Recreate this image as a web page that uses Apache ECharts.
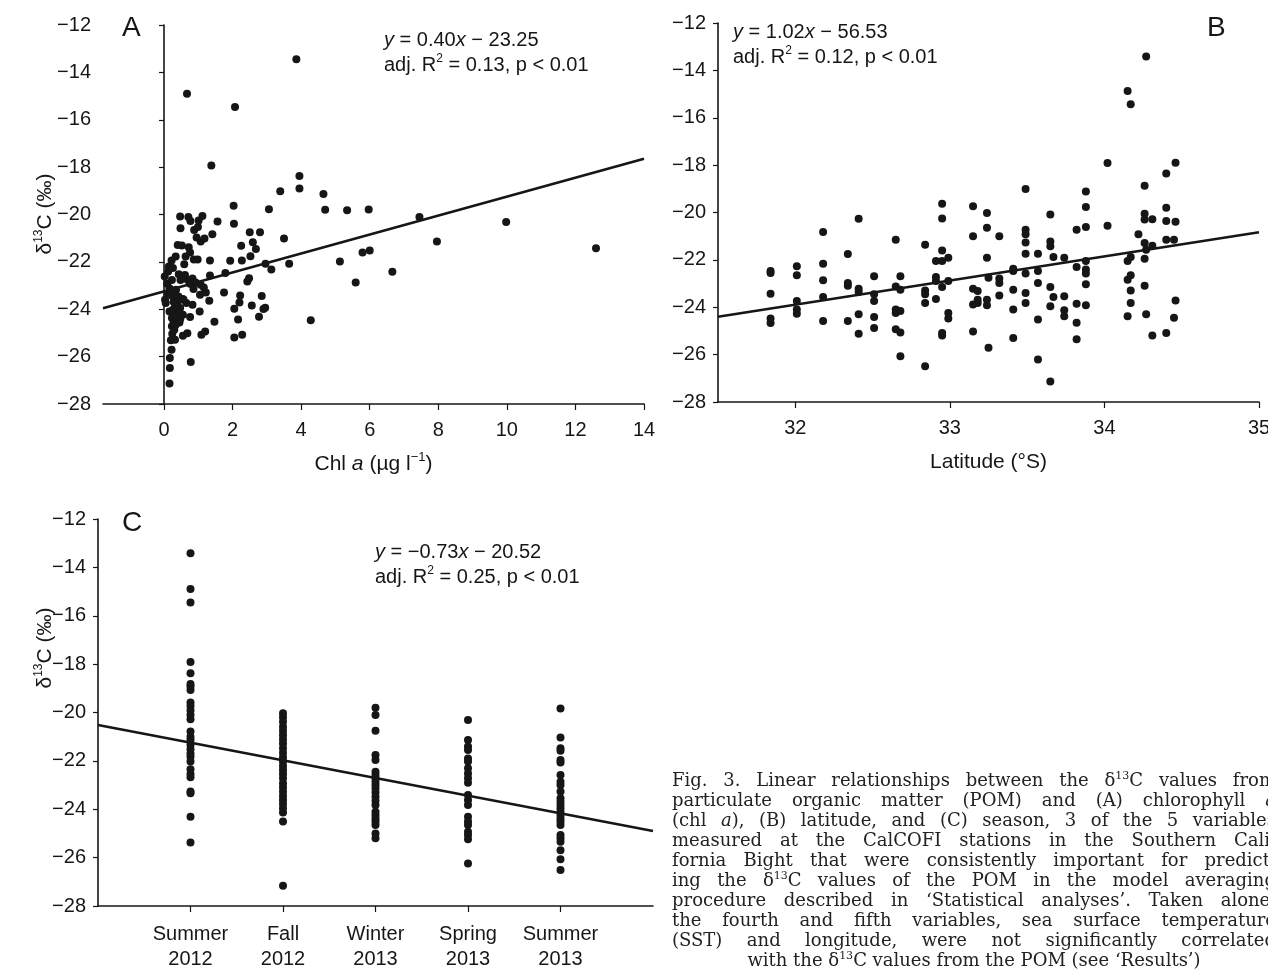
<!DOCTYPE html>
<html>
<head>
<meta charset="utf-8">
<script src="https://cdn.jsdelivr.net/npm/echarts@6.0.0/dist/echarts.min.js"></script>
<style>
  html, body { margin: 0; padding: 0; background: #fff; overflow: hidden; }
  #chart { position: absolute; left: 0; top: 0; width: 1268px; height: 971px; }
  #caption { position: absolute; left: 672px; top: 770px; width: 604px;
    font-family: 'DejaVu Serif', 'Liberation Serif', serif;
    font-size: 18px; color: #222; }
  #caption div { height: 20px; line-height: 20px; white-space: nowrap; text-align: justify; text-align-last: justify; }
  #caption div.last { text-align-last: center; }
  #caption .sup { font-size: 11px; position: relative; top: -7px; }
</style>
</head>
<body>
<div id="chart"></div>
<div id="caption">
  <div>Fig. 3. Linear relationships between the δ<span class="sup">13</span>C values from</div>
  <div>particulate organic matter (POM) and (A) chlorophyll <i>a</i></div>
  <div>(chl <i>a</i>), (B) latitude, and (C) season, 3 of the 5 variables</div>
  <div>measured at the CalCOFI stations in the Southern Cali-</div>
  <div>fornia Bight that were consistently important for predict-</div>
  <div>ing the δ<span class="sup">13</span>C values of the POM in the model averaging</div>
  <div>procedure described in ‘Statistical analyses’. Taken alone,</div>
  <div>the fourth and fifth variables, sea surface temperature</div>
  <div>(SST) and longitude, were not significantly correlated</div>
  <div class="last">with the δ<span class="sup">13</span>C values from the POM (see ‘Results’)</div>
</div>
<script>
// ---- panel A : chlorophyll a vs d13C ----
const chlA = [3.86,0.67,2.07,1.38,3.95,3.95,3.39,4.65,2.03,3.06,
  4.7,5.34,5.97,7.45,9.98,0.47,0.71,0.77,1.12,1.01,
  1.56,2.04,0.48,0.88,0.99,1.41,2.5,2.8,0.95,1.07,
  1.18,3.5,7.96,2.59,2.25,2.68,0.4,0.52,0.72,12.6,
  5.79,6.0,0.76,0.34,0.63,0.87,0.98,2.52,0.22,1.34,
  1.93,2.27,0.59,5.13,2.96,3.65,0.14,0.26,3.13,6.66,
  1.79,0.43,0.61,0.02,1.34,0.83,2.48,0.23,0.69,2.43,
  5.59,0.92,0.76,1.07,1.16,0.16,0.35,0.86,1.22,1.75,
  0.1,0.23,0.42,1.05,2.22,2.85,0.03,0.55,0.28,0.05,
  0.65,1.32,2.2,0.83,2.56,2.95,2.9,2.05,0.32,0.47,
  0.16,1.04,0.34,0.55,0.76,0.41,0.23,2.77,2.16,4.28,
  0.28,0.45,0.34,1.47,0.23,1.2,1.09,0.68,0.24,0.55,
  2.28,2.05,0.32,0.2,0.22,0.78,0.17,0.17,0.16,
  0.09,0.2,0.3,0.39,0.26,0.47,0.3,0.57,0.12,0.48];
const d13cA = [-13.45,-14.9,-15.46,-17.93,-18.37,-18.9,-19.02,-19.13,-19.63,-19.78,
  -19.8,-19.82,-19.79,-20.11,-20.32,-20.08,-20.11,-20.27,-20.06,-20.25,
  -20.3,-20.39,-20.58,-20.65,-20.53,-20.83,-20.75,-20.75,-20.97,-21.14,
  -21.01,-21.01,-21.14,-21.17,-21.32,-21.46,-21.29,-21.31,-21.38,-21.43,
  -21.6,-21.52,-21.6,-21.77,-21.77,-21.9,-21.9,-21.76,-21.94,-21.94,
  -21.95,-21.94,-22.1,-21.98,-22.08,-22.08,-22.19,-22.26,-22.32,-22.42,
  -22.47,-22.52,-22.55,-22.62,-22.57,-22.7,-22.69,-22.76,-22.76,-22.83,
  -22.87,-22.87,-22.92,-22.97,-23.08,-23.11,-23.18,-23.15,-23.29,-23.29,
  -23.35,-23.43,-23.46,-23.39,-23.42,-23.44,-23.6,-23.57,-23.68,-23.74,
  -23.74,-23.64,-23.71,-23.81,-23.84,-23.94,-23.99,-23.98,-23.88,-23.95,
  -24.09,-24.09,-24.19,-24.23,-24.33,-24.26,-24.37,-24.32,-24.43,-24.46,
  -24.51,-24.56,-24.65,-24.53,-24.72,-24.94,-25.08,-25.01,-25.03,-25.12,
  -25.08,-25.19,-25.29,-25.31,-25.71,-26.23,-26.06,-26.48,-27.13,
  -22.92,-23.26,-23.4,-23.74,-24.02,-24.42,-24.87,-23.6,-22.41,-22.76];
const chlTicks = [0, 2, 4, 6, 8, 10, 12, 14];
const fitA = [0.40, -23.25];

// ---- panel B : latitude vs d13C (grouped by station latitude) ----
const latB = [31.84, 32.01, 32.18, 32.34, 32.41, 32.51, 32.65, 32.68, 32.84, 32.91,
  32.95, 32.99, 33.15, 33.18, 33.24, 33.25, 33.32, 33.41, 33.49, 33.57,
  33.65, 33.67, 33.74, 33.82, 33.88, 34.02, 34.15, 34.17, 34.22, 34.26,
  34.27, 34.31, 34.40, 34.45, 34.46];
const d13cB = [
  [-22.47,-22.55,-23.43,-24.48,-24.67],
  [-22.27,-22.65,-23.74,-24.1,-24.27],
  [-20.82,-22.16,-22.86,-23.57,-24.58],
  [-21.75,-22.98,-23.09,-24.58],
  [-20.26,-23.22,-23.36,-24.3,-25.12],
  [-22.69,-23.45,-23.74,-24.41,-24.88],
  [-21.15,-23.12,-24.09,-24.24,-24.93],
  [-22.69,-23.26,-24.16,-25.07,-26.07],
  [-21.36,-23.29,-23.45,-23.82,-26.49],
  [-22.05,-22.72,-22.89,-23.65],
  [-19.63,-20.25,-21.6,-22.05,-23.15,-25.09,-25.19],
  [-21.91,-22.89,-24.24,-24.48],
  [-19.74,-21.0,-23.22,-23.88,-25.02],
  [-23.31,-23.68,-23.82],
  [-20.02,-20.64,-21.91,-23.68,-23.92],
  [-22.75,-25.71],
  [-21.0,-22.79,-22.98,-23.5],
  [-22.37,-22.47,-23.26,-24.1,-25.3],
  [-19.01,-20.73,-20.92,-21.27,-21.74,-22.58,-23.4,-23.82],
  [-21.74,-22.47,-22.98,-24.52,-26.21],
  [-20.08,-21.22,-21.43,-23.15,-23.96,-27.13],
  [-21.88,-23.57],
  [-21.91,-23.54,-24.13,-24.38],
  [-20.73,-22.3,-23.85,-24.65,-25.35],
  [-19.11,-19.77,-20.61,-22.05,-22.41,-22.58,-23.03,-23.92],
  [-17.91,-20.56],
  [-14.87,-22.05,-22.84,-24.38],
  [-15.43,-21.88,-22.65,-23.29,-23.82],
  [-20.92],
  [-18.87,-20.05,-20.3,-21.29,-21.95,-23.09],
  [-13.41,-24.3,-21.57],
  [-20.28,-21.4,-25.19],
  [-18.35,-19.8,-20.36,-21.15,-25.09],
  [-21.15,-24.44],
  [-17.9,-20.39,-23.71]
];
const latTicks = [32, 33, 34, 35];
const fitB = [1.02, -56.53];

// ---- panel C : season vs d13C ----
const seasons = ['Summer\n2012', 'Fall\n2012', 'Winter\n2013', 'Spring\n2013', 'Summer\n2013'];
const summer2012 = [-13.42,-14.89,-15.45,-17.91,-18.38,-18.82,-18.93,-19.07,-19.59,-19.73,
  -19.92,-20.1,-20.28,-20.79,-21.0,-21.14,-21.34,-21.52,-21.69,-21.83,
  -22.03,-22.35,-22.54,-22.68,-23.27,-23.34,-24.31,-25.37];
const fall2012 = [-20.03,-20.2,-20.38,-20.59,-20.75,-20.93,-21.11,-21.28,-21.48,-21.66,
  -21.85,-22.03,-22.21,-22.38,-22.54,-22.72,-22.93,-23.09,-23.27,-23.45,
  -23.62,-23.78,-23.96,-24.13,-24.51,-27.16];
const winter2013 = [-19.8,-20.1,-20.75,-21.76,-21.96,-22.45,-22.58,-22.72,-22.86,-23.0,
  -23.14,-23.31,-23.48,-23.65,-23.82,-24.1,-24.24,-24.38,-24.51,-24.65,-25.0,-25.2];
const spring2013 = [-20.31,-21.14,-21.41,-21.55,-21.9,-22.03,-22.31,-22.52,-22.72,-22.9,
  -23.41,-23.62,-23.82,-24.31,-24.51,-24.65,-24.93,-25.06,-25.24,-26.24];
const summer2013 = [-19.83,-21.03,-21.48,-21.58,-21.96,-22.07,-22.58,-22.86,-23.0,-23.27,
  -23.55,-23.69,-23.82,-23.96,-24.1,-24.24,-24.38,-24.51,-24.65,-25.06,
  -25.2,-25.34,-25.69,-26.07,-26.51];
const fitC = [-0.73, -20.52];

// 轴范围
const xRangeA = [-1.78, 14];
const xRangeB = [31.5, 35];
const xRangeC = [0, 6];

const sans = 'Liberation Sans, Arial, Helvetica, sans-serif';
const ink = '#161616';
const minus = v => String(v).replace('-', '\u2212');

const pointsA = chlA.map((x, i) => [x, d13cA[i]]);
const pointsB = [];
latB.forEach((lat, i) => d13cB[i].forEach(v => pointsB.push([lat, v])));
const pointsC = [];
[summer2012, fall2012, winter2013, spring2013, summer2013].forEach((arr, i) => {
  arr.forEach(v => pointsC.push([i + 1, v]));
});
const fitLine = (fit, range) => range.map(x => [x, fit[0] * x + fit[1]]);

function yAxis(gridIndex) {
  return {
    type: 'value', gridIndex: gridIndex, min: -28, max: -12, interval: 2,
    axisLine: { show: true, lineStyle: { color: ink, width: 1.6 } },
    axisTick: { show: true, length: 5, lineStyle: { color: ink, width: 1.2 } },
    splitLine: { show: false },
    axisLabel: { color: ink, fontSize: 20, fontFamily: sans, margin: 12, formatter: minus }
  };
}
function xAxis(gridIndex, range, ticks, extra) {
  return Object.assign({
    type: 'value', gridIndex: gridIndex, min: range[0], max: range[1],
    axisLine: { show: true, onZero: false, lineStyle: { color: ink, width: 1.6 } },
    axisTick: { show: true, length: 6, customValues: ticks, lineStyle: { color: ink, width: 1.2 } },
    splitLine: { show: false },
    axisLabel: { color: ink, fontSize: 20, fontFamily: sans, margin: 16, customValues: ticks }
  }, extra || {});
}
const scatter = (idx, data) => ({
  type: 'scatter', xAxisIndex: idx, yAxisIndex: idx, data: data,
  symbolSize: 8, itemStyle: { color: ink, opacity: 1 }, silent: true, z: 3
});
const line = (idx, data) => ({
  type: 'line', xAxisIndex: idx, yAxisIndex: idx, data: data, symbol: 'none',
  lineStyle: { color: ink, width: 2.6 }, silent: true, z: 2
});

const nameStyle = {
  color: ink, fontSize: 21, fontFamily: sans, lineHeight: 26,
  rich: {
    i: { fontStyle: 'italic', fontSize: 21, fontFamily: sans, color: ink, lineHeight: 26 },
    sup: { fontSize: 13, fontFamily: sans, color: ink, lineHeight: 14, verticalAlign: 'top' }
  }
};
const eqRich = {
  i: { fontStyle: 'italic', fontSize: 20, fontFamily: sans, fill: ink, lineHeight: 24 },
  sup: { fontSize: 12, fontFamily: sans, fill: ink, lineHeight: 13, verticalAlign: 'top' }
};
function txt(x, y, text, size, rot) {
  return {
    type: 'text', x: x, y: y, rotation: rot || 0, silent: true,
    style: {
      text: text, fontSize: size, fontFamily: sans, fill: ink, lineHeight: 24,
      verticalAlign: 'middle', align: rot ? 'center' : 'left', rich: eqRich
    }
  };
}
const yTitle = 'δ{sup|13}C (‰)';

const chart = echarts.init(document.getElementById('chart'));
chart.setOption({
  backgroundColor: '#fff',
  animation: false,
  grid: [
    { left: 103, top: 25, width: 541, height: 379, outerBoundsMode: 'none' },
    { left: 718, top: 23, width: 541, height: 379, outerBoundsMode: 'none' },
    { left: 98, top: 519, width: 555, height: 387, outerBoundsMode: 'none' }
  ],
  xAxis: [
    xAxis(0, xRangeA, chlTicks, {
      name: 'Chl {i|a} (µg l{sup|\u22121})', nameLocation: 'middle', nameGap: 47, nameTextStyle: nameStyle
    }),
    xAxis(1, xRangeB, latTicks, {
      name: 'Latitude (°S)', nameLocation: 'middle', nameGap: 47, nameTextStyle: nameStyle
    }),
    xAxis(2, xRangeC, [1, 2, 3, 4, 5])
  ],
  yAxis: [yAxis(0), yAxis(1), yAxis(2)],
  series: [
    line(0, fitLine(fitA, xRangeA)),
    scatter(0, pointsA),
    line(1, fitLine(fitB, xRangeB)),
    scatter(1, pointsB),
    line(2, fitLine(fitC, xRangeC)),
    scatter(2, pointsC)
  ],
  graphic: [
    txt(122, 28, 'A', 28),
    txt(1207, 28, 'B', 28),
    txt(122, 523, 'C', 28),
    txt(384, 40, '{i|y} = 0.40{i|x} \u2212 23.25', 20),
    txt(384, 65, 'adj. R{sup|2} = 0.13, p < 0.01', 20),
    txt(733, 32, '{i|y} = 1.02{i|x} \u2212 56.53', 20),
    txt(733, 57, 'adj. R{sup|2} = 0.12, p < 0.01', 20),
    txt(375, 552, '{i|y} = \u22120.73{i|x} \u2212 20.52', 20),
    txt(375, 577, 'adj. R{sup|2} = 0.25, p < 0.01', 20),
    txt(45, 214, yTitle, 21, Math.PI / 2),
    txt(45, 648, yTitle, 21, Math.PI / 2)
  ]
});
// 季节坐标轴标签
chart.setOption({
  xAxis: [{}, {}, {
    axisLabel: { lineHeight: 25, formatter: v => seasons[Math.round(v) - 1] || '' }
  }]
});
</script>
</body>
</html>
